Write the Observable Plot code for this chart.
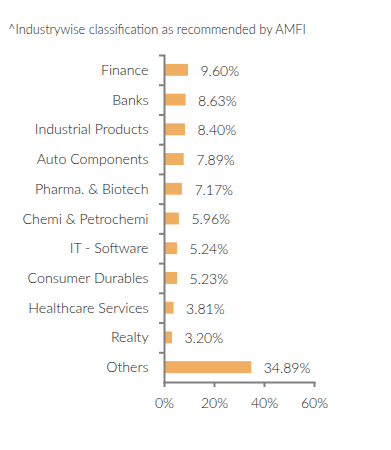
<!DOCTYPE html>
<html>
<head>
<meta charset="utf-8">
<script src="https://cdn.jsdelivr.net/npm/d3@7"></script>
<script src="https://cdn.jsdelivr.net/npm/@observablehq/plot@0.6"></script>
<style>
  html, body { margin: 0; padding: 0; background: #fff; }
  body { width: 391px; height: 450px; font-family: Lato, "Open Sans", sans-serif; font-weight: 300; color: #333; }
  #caption { height: 40px; box-sizing: border-box; padding: 21px 0 0 8px; font-size: 12.8px; line-height: 16px; color: #222; }
  svg { display: block; }
</style>
</head>
<body>
<div id="caption">^Industrywise classification as recommended by AMFI</div>
<div id="chart"></div>
<script>
const categories = ["Finance", "Banks", "Industrial Products", "Auto Components", "Pharma. & Biotech", "Chemi & Petrochemi", "IT - Software", "Consumer Durables", "Healthcare Services", "Realty", "Others"];
const values = [9.60, 8.63, 8.40, 7.89, 7.17, 5.96, 5.24, 5.23, 3.81, 3.20, 34.89];
const xTicks = [0, 20, 40, 60];

const data = categories.map((c, i) => ({category: c, value: values[i]}));

const width = 391, height = 410;
const marginTop = 15, marginBottom = 68, marginLeft = 164, marginRight = 77;
const step = (height - marginTop - marginBottom) / categories.length;
const axisColor = "#808080";

const chart = Plot.plot({
  width, height, marginTop, marginBottom, marginLeft, marginRight,
  style: {fontFamily: "Lato, 'Open Sans', sans-serif", fontWeight: 300, color: "#222", background: "#fff"},
  x: {domain: [0, 60], axis: null, label: null},
  y: {domain: categories, paddingInner: 0.6, paddingOuter: 0.3, round: false, axis: null, label: null},
  marks: [
    Plot.barX(data, {x: "value", y: "category", fill: "#F0AE63"}),
    Plot.text(data, {x: "value", y: "category", text: d => d.value.toFixed(2) + "%", textAnchor: "start", dx: 12, dy: 1, fontSize: 14, fill: "#222"}),
    Plot.frame({anchor: "left", stroke: axisColor, strokeWidth: 2}),
    Plot.frame({anchor: "bottom", stroke: axisColor, strokeWidth: 2}),
    Plot.ruleY(categories, {y: d => d, x1: 0, x2: 0, insetLeft: -5, dy: -step / 2, stroke: axisColor, strokeWidth: 2}),
    Plot.axisY({tickSize: 0, tickPadding: 16, fontSize: 14.2, fill: "#222", label: null}),
    Plot.axisX({ticks: xTicks, tickSize: 5, tickPadding: 11, tickFormat: d => d + "%", fontSize: 14, fill: "#222", stroke: axisColor, strokeWidth: 2, label: null})
  ]
});
document.getElementById("chart").appendChild(chart);
</script>
</body>
</html>
